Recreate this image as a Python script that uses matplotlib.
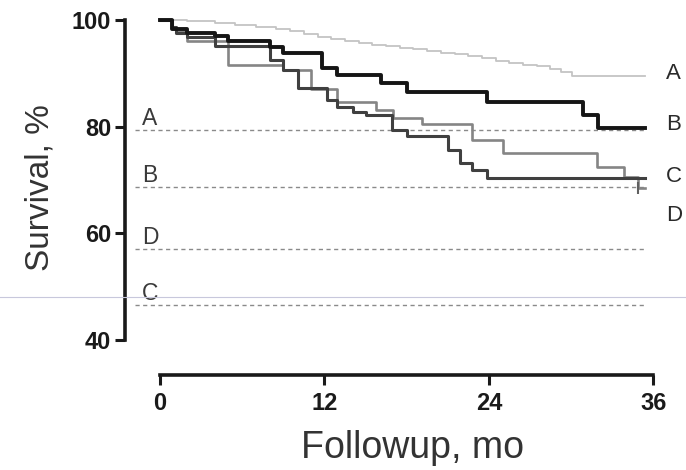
import matplotlib
matplotlib.use("Agg")
from matplotlib import pyplot as plt
from matplotlib.lines import Line2D

plt.rcParams['font.family'] = ['Liberation Sans', 'DejaVu Sans']

# survival curves (months, %)
a_months = [0, 2, 4, 5.5, 7, 8.5, 9.5, 10.5, 11.5, 12.5, 13.5, 14.5, 15.5, 16.5, 17.5,
            18.5, 19.5, 20.5, 21.5, 22.5, 23.5, 24.5, 25.5, 26.5, 27.5, 28.5, 29.3, 30.1, 35.4]
a_surv = [100, 99.8, 99.5, 99.1, 98.7, 98.3, 97.9, 97.4, 96.9, 96.4, 96.0, 95.7, 95.4, 95.1, 94.8,
          94.5, 94.2, 93.9, 93.6, 93.2, 92.8, 92.4, 92.0, 91.6, 91.3, 90.8, 90.3, 89.5, 89.5]

b_months = [0, 0.9, 2.0, 4.0, 5.0, 8.0, 9.0, 11.8, 12.9, 16.1, 18.0, 23.9, 30.9, 32.0, 35.4]
b_surv = [100, 98.3, 97.6, 97.0, 96.1, 94.9, 93.8, 91.0, 89.7, 88.2, 86.5, 84.6, 82.2, 79.7, 79.7]

c_months = [0, 0.9, 1.2, 2.0, 5.0, 9.0, 11.0, 12.9, 15.8, 17.0, 19.1, 22.8, 25.0, 31.9, 33.9, 34.9, 35.4]
c_surv = [100, 98.7, 97.9, 96.1, 91.6, 90.6, 87.1, 84.6, 83.1, 81.6, 80.5, 77.5, 75.1, 72.4, 70.6, 68.5, 68.5]

d_months = [0, 0.9, 1.2, 2.0, 4.0, 8.0, 9.0, 10.1, 12.2, 12.9, 14.1, 15.0, 16.9, 18.0, 21.0,
            21.9, 22.8, 23.9, 35.4]
d_surv = [100, 98.7, 97.6, 96.8, 95.1, 92.5, 90.6, 87.25, 85.0, 83.7, 82.75, 82.2, 79.4, 78.25, 75.6,
          73.2, 71.9, 70.4, 70.4]

# dashed reference levels
ref_labels = ['A', 'B', 'D', 'C']
ref_levels = [79.4, 68.7, 57.1, 46.6]

# curve labels at right edge
end_labels = ['A', 'B', 'C', 'D']
end_levels = [90.0, 80.5, 70.6, 63.3]

y_ticks = [40, 60, 80, 100]
x_ticks = [0, 12, 24, 36]

fig = plt.figure(figsize=(6.86, 4.70), dpi=100)
ax = fig.add_axes([0.1603, 0.1489, 0.8397, 0.8298])
ax.set_xlim(-3.65, 38.39)
ax.set_ylim(28.75, 101.875)

for lab, lev in zip(ref_labels, ref_levels):
    ax.plot([-1.8, 35.4], [lev, lev], color='#8a8a8a', lw=1.0,
            linestyle=(0, (3, 2.5)), zorder=1)
    ax.text(-1.3, lev + 2.1, lab, fontsize=16.5, color='#3a3a3a',
            ha='left', va='center')

ax.step(a_months, a_surv, where='post', color='#c4c4c4', lw=1.3, zorder=2)
ax.step(c_months, c_surv, where='post', color='#858585', lw=1.9, zorder=3)
ax.step(d_months, d_surv, where='post', color='#404040', lw=2.2, zorder=4)
ax.step(b_months, b_surv, where='post', color='#151515', lw=2.8, zorder=5)
# censor mark at end of C
ax.plot([c_months[-2]], [c_surv[-1]], marker='|', markersize=9,
        markeredgewidth=1.5, color='#606060', zorder=3)

for lab, lev in zip(end_labels, end_levels):
    ax.text(36.95, lev, lab, fontsize=16, color='#2a2a2a',
            ha='left', va='center', clip_on=False)

for s in ['top', 'right']:
    ax.spines[s].set_visible(False)
ax.spines['left'].set_position(('data', -2.555))
ax.spines['left'].set_bounds(40, 100)
ax.spines['bottom'].set_position(('data', 33.44))
ax.spines['bottom'].set_bounds(0, 36)
for s in ['left', 'bottom']:
    ax.spines[s].set_linewidth(2.6)
    ax.spines[s].set_color('#1a1a1a')

ax.set_yticks(y_ticks)
ax.set_xticks(x_ticks)
ax.tick_params(axis='both', direction='out', length=7, width=2.2,
               color='#1a1a1a', labelsize=17, labelcolor='#1a1a1a')
ax.tick_params(axis='y', pad=3)
ax.tick_params(axis='x', pad=5)
for lbl in ax.get_xticklabels() + ax.get_yticklabels():
    lbl.set_fontweight('bold')

ax.set_ylabel('Survival, %', fontsize=24, color='#333333', va='center')
ax.yaxis.set_label_coords(-0.1215, 0.5436)
ax.set_xlabel('Followup, mo', fontsize=27, color='#333333', va='center')
ax.xaxis.set_label_coords(0.526, -0.123)

# faint scan line across the picture
fig.add_artist(Line2D([0, 1], [0.368, 0.368], transform=fig.transFigure,
                      color='#c8c8dc', lw=0.8))

fig.savefig('out.png', dpi=100)
